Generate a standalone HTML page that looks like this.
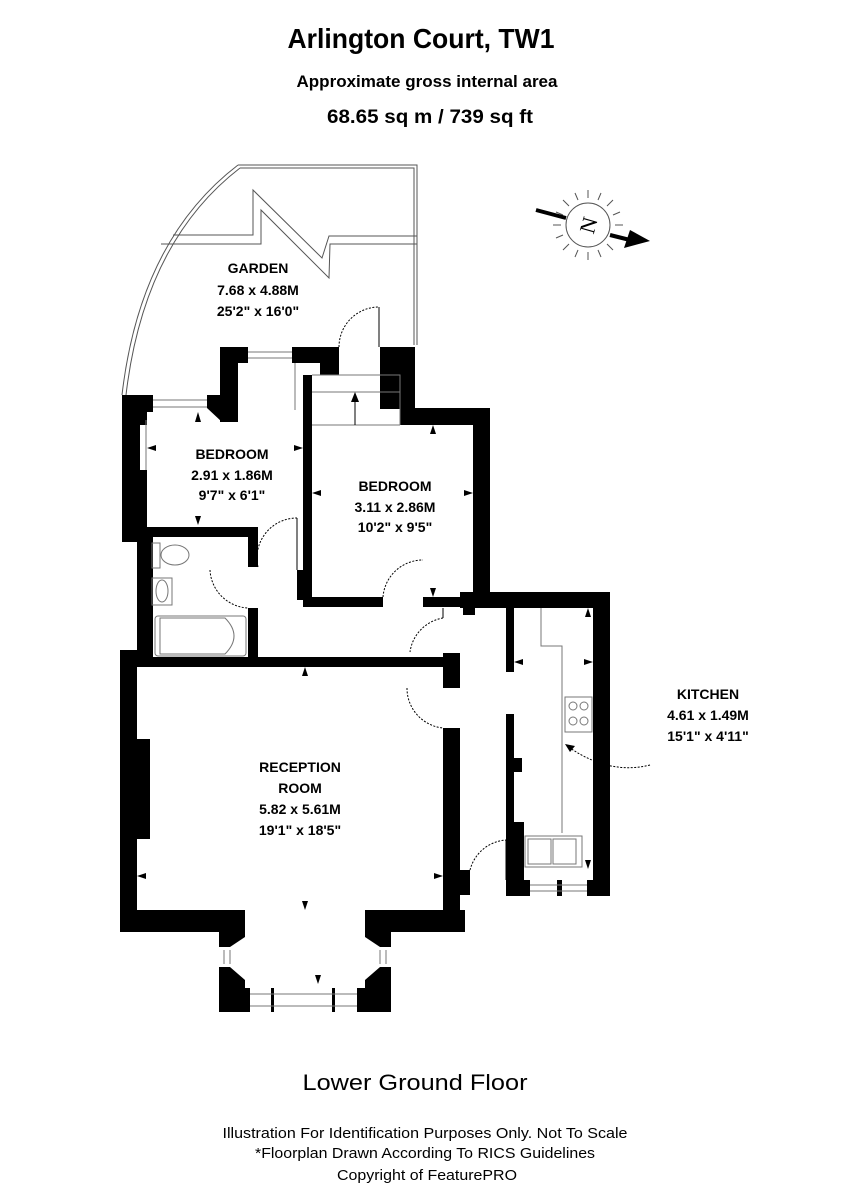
<!DOCTYPE html>
<html><head><meta charset="utf-8"><style>
html,body{margin:0;padding:0;background:#fff;}
svg{display:block;}
text{font-family:"Liberation Sans Narrow","Liberation Sans",Arial,sans-serif;fill:#000;}
.b{font-weight:bold;}
</style></head><body>
<svg width="855" height="1200" viewBox="0 0 855 1200" xmlns="http://www.w3.org/2000/svg">
<text x="421" y="48" class="b" font-size="28" text-anchor="middle" textLength="267" lengthAdjust="spacingAndGlyphs">Arlington Court, TW1</text>
<text x="427" y="87" class="b" font-size="17" text-anchor="middle" textLength="261" lengthAdjust="spacingAndGlyphs">Approximate gross internal area</text>
<text x="430" y="123" class="b" font-size="19" text-anchor="middle" textLength="206" lengthAdjust="spacingAndGlyphs">68.65 sq m /  739 sq ft</text>

<g fill="none" stroke="#555" stroke-width="1">
<path d="M238,165 L417,165 L417,345"/>
<path d="M240,168 L414,168 L414,345"/>
<path d="M238,165 Q140,240 122,395"/>
<path d="M240,168 Q144,242 126,395"/>
<path d="M173,235 L253,235 L253,190 L322,258 L329,236 L417,236"/>
<path d="M161,244 L261,244 L261,210 L329,278 L330,244 L417,244"/>
</g>

<g fill="#000">
<rect x="122" y="395" width="31" height="17"/>
<rect x="122" y="395" width="25" height="147"/>
<rect x="137" y="527" width="121" height="10"/>
<rect x="137" y="537" width="16" height="120"/>
<polygon points="207,395 238,395 238,422 222,422 207,408"/>
<rect x="220" y="347" width="18" height="75"/>
<rect x="220" y="347" width="28" height="16"/>
<rect x="292" y="347" width="47" height="16"/>
<rect x="320" y="347" width="19" height="28"/>
<rect x="380" y="347" width="35" height="62"/>
<rect x="400" y="408" width="90" height="17"/>
<rect x="473" y="408" width="17" height="200"/>
<rect x="303" y="375" width="9" height="232"/>
<rect x="303" y="597" width="80" height="10"/>
<rect x="423" y="597" width="67" height="10"/>
<rect x="463" y="597" width="12" height="18"/>
<rect x="248" y="527" width="10" height="40"/>
<rect x="248" y="608" width="10" height="50"/>
<rect x="297" y="570" width="6" height="30"/>
<rect x="137" y="657" width="306" height="10"/>
<rect x="443" y="653" width="17" height="35"/>
<rect x="120" y="650" width="17" height="282"/>
<rect x="137" y="739" width="13" height="100"/>
<rect x="443" y="728" width="17" height="182"/>
<rect x="460" y="870" width="10" height="25"/>
<!-- bottom wall with bay opening -->
<rect x="120" y="910" width="125" height="22"/>
<rect x="195" y="910" width="50" height="5" fill="#000"/>
<rect x="365" y="910" width="100" height="22"/>
<polygon points="219,915 245,915 245,937 230,947 219,947"/>
<polygon points="219,967 230,967 245,980 245,988 250,988 250,1012 219,1012"/>
<polygon points="365,915 391,915 391,947 380,947 365,937"/>
<polygon points="380,967 391,967 391,1012 357,1012 357,988 365,988 365,980"/>
<rect x="271" y="988" width="3" height="24"/>
<rect x="332" y="988" width="3" height="24"/>
<rect x="460" y="592" width="150" height="16"/>
<rect x="593" y="592" width="17" height="304"/>
<rect x="506" y="608" width="8" height="64"/>
<rect x="506" y="714" width="8" height="182"/>
<rect x="514" y="758" width="8" height="14"/>
<rect x="514" y="822" width="10" height="74"/>
<rect x="506" y="880" width="24" height="16"/>
<rect x="587" y="880" width="23" height="16"/>
<rect x="557" y="880" width="5" height="16"/>
</g>
<rect x="140" y="425" width="7" height="45" fill="#fff"/>

<g stroke="#777" stroke-width="1" fill="none">
<path d="M153,400 L207,400 M153,407 L207,407 M248,352 L292,352 M248,358 L292,358"/>
<path d="M250,994 L357,994 M250,1006 L357,1006 M230,950 L230,964 M224,950 L224,964 M380,950 L380,964 M386,950 L386,964"/>
<path d="M530,885 L587,885 M530,891 L587,891"/>
<path d="M312,375 L400,375 L400,425 M312,392 L400,392 M312,425 L400,425"/>
<path d="M541,608 L541,646 L562,646 L562,833"/>
<rect x="565" y="697" width="27" height="35"/>
<rect x="525" y="836" width="57" height="31"/>
<rect x="528" y="839" width="23" height="25"/>
<rect x="553" y="839" width="23" height="25"/>
<circle cx="573" cy="706" r="4"/><circle cx="584" cy="706" r="4"/>
<circle cx="573" cy="721" r="4"/><circle cx="584" cy="721" r="4"/>
<rect x="155" y="616" width="91" height="40" rx="3"/>
<path d="M160,618 L225,618 Q243,636 225,654 L160,654 Z"/>
<rect x="152" y="578" width="20" height="27"/>
<ellipse cx="162" cy="591" rx="6" ry="11"/>
<rect x="152" y="543" width="8" height="25"/>
<ellipse cx="175" cy="555" rx="14" ry="10"/>
<path d="M146,420 L146,470 M295,363 L295,410"/>
</g>

<g stroke="#000" stroke-width="1" fill="none" stroke-dasharray="2,1.5">
<path d="M339,347 A40,40 0 0 1 379,307"/>
<path d="M258,567 A40,40 0 0 1 297,518"/>
<path d="M210,570 A40,40 0 0 0 248,608"/>
<path d="M383,597 A40,40 0 0 1 423,560"/>
<path d="M443,618 A40,40 0 0 0 410,652"/>
<path d="M407,688 A40,40 0 0 0 443,728"/>
<path d="M470,870 A40,40 0 0 1 506,840"/>
<path d="M650,765 Q610,775 570,748"/>
</g>
<g stroke="#000" stroke-width="1" fill="none">
<path d="M379,307 L379,347 M297,518 L297,570 M443,618 L443,608 M506,840 L506,880"/>
<path d="M355,393 L355,425"/>
</g>
<polygon points="565,744 575,746 570,752" fill="#000"/>
<polygon points="351,402 359,402 355,392" fill="#000"/>

<g fill="#000">
<polygon points="198,412 201,422 195,422"/>
<polygon points="198,525 201,516 195,516"/>
<polygon points="147,448 156,445 156,451"/>
<polygon points="303,448 294,445 294,451"/>
<polygon points="312,493 321,490 321,496"/>
<polygon points="473,493 464,490 464,496"/>
<polygon points="433,425 436,434 430,434"/>
<polygon points="433,597 436,588 430,588"/>
<polygon points="305,667 308,676 302,676"/>
<polygon points="305,910 308,901 302,901"/>
<polygon points="318,984 321,975 315,975"/>
<polygon points="137,876 146,873 146,879"/>
<polygon points="443,876 434,873 434,879"/>
<polygon points="514,662 523,659 523,665"/>
<polygon points="593,662 584,659 584,665"/>
<polygon points="588,608 591,617 585,617"/>
<polygon points="588,869 591,860 585,860"/>
</g>

<g stroke="#555" stroke-width="1">
<circle cx="588" cy="225" r="22" fill="#fff"/>
<path d="M588,198 L588,190 M588,252 L588,260 M561,225 L553,225 M615,225 L623,225 M607,206 L613,200 M569,244 L563,250 M607,244 L613,250 M569,206 L563,200 M598,200 L601,193 M578,250 L575,257 M578,200 L575,193 M598,250 L601,257 M613,215 L620,212 M563,235 L556,238 M613,235 L620,238 M563,215 L556,212"/>
</g>
<path d="M536,210 L566,218" stroke="#000" stroke-width="4"/>
<path d="M610,235 L630,240" stroke="#000" stroke-width="4"/>
<polygon points="650,241 624,248 630,230" fill="#000"/>
<text x="588" y="233" font-size="22" text-anchor="middle" transform="rotate(-74 588 225)" style="font-family:'Liberation Serif',serif">N</text>

<g class="b" font-size="14" text-anchor="middle" font-weight="bold">
<text x="258" y="273">GARDEN</text>
<text x="258" y="295">7.68 x 4.88M</text>
<text x="258" y="316">25'2" x 16'0"</text>
<text x="232" y="459">BEDROOM</text>
<text x="232" y="480">2.91 x 1.86M</text>
<text x="232" y="500">9'7" x 6'1"</text>
<text x="395" y="491">BEDROOM</text>
<text x="395" y="512">3.11 x 2.86M</text>
<text x="395" y="532">10'2" x 9'5"</text>
<text x="300" y="772">RECEPTION</text>
<text x="300" y="793">ROOM</text>
<text x="300" y="814">5.82 x 5.61M</text>
<text x="300" y="835">19'1" x 18'5"</text>
<text x="708" y="699">KITCHEN</text>
<text x="708" y="720">4.61 x 1.49M</text>
<text x="708" y="741">15'1" x 4'11"</text>
</g>

<text x="415" y="1090" font-size="22" text-anchor="middle" textLength="225" lengthAdjust="spacingAndGlyphs">Lower Ground Floor</text>
<text x="425" y="1138" font-size="15" text-anchor="middle" textLength="405" lengthAdjust="spacingAndGlyphs">Illustration For Identification Purposes Only. Not To Scale</text>
<text x="425" y="1158" font-size="15" text-anchor="middle" textLength="340" lengthAdjust="spacingAndGlyphs">*Floorplan Drawn According To RICS Guidelines</text>
<text x="427" y="1180" font-size="15" text-anchor="middle" textLength="180" lengthAdjust="spacingAndGlyphs">Copyright of FeaturePRO</text>
</svg>
</body></html>
